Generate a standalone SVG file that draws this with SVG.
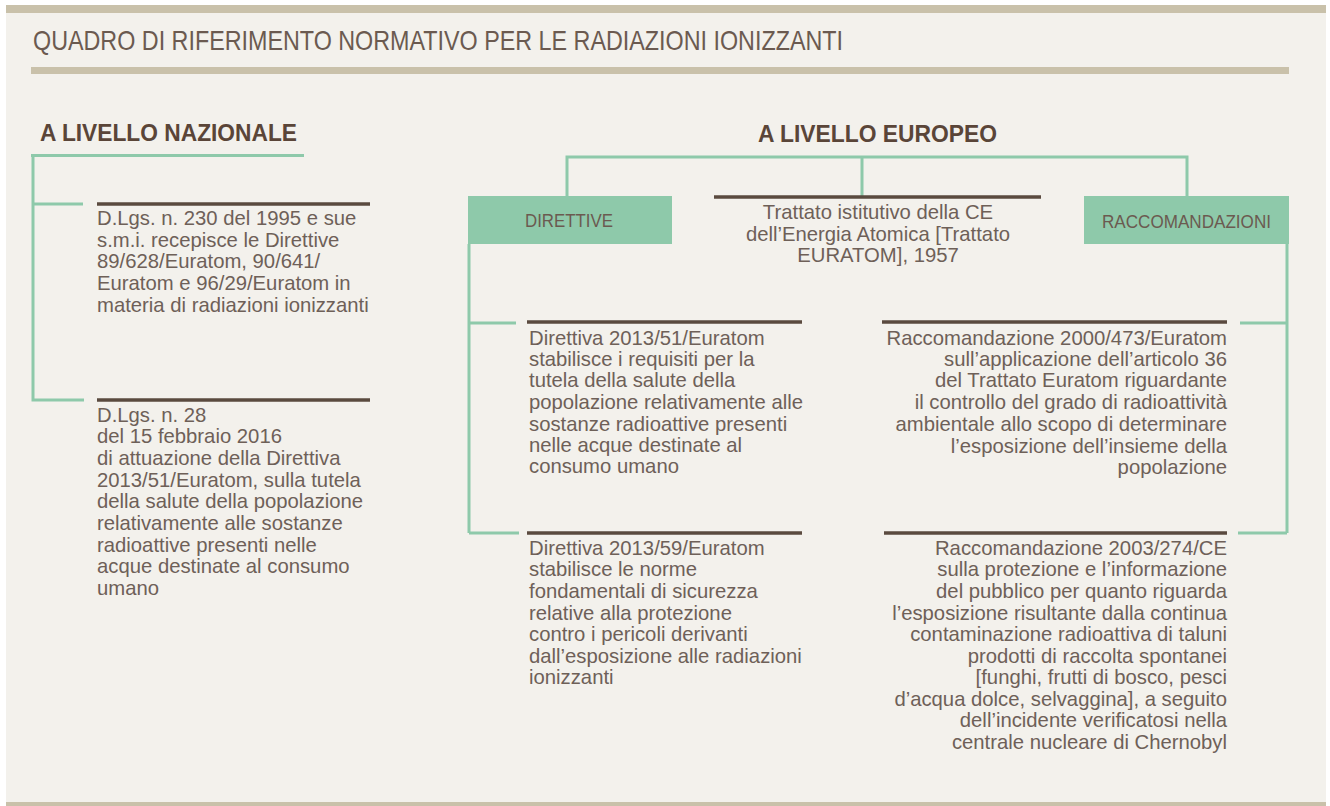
<svg xmlns="http://www.w3.org/2000/svg" width="1330" height="806" viewBox="0 0 1330 806">
<style>
.t{font-family:"Liberation Sans",Arial,sans-serif;font-size:20.3px;fill:#6e6058}
.r{text-anchor:end}
.c{text-anchor:middle}
.h{font-family:"Liberation Sans",Arial,sans-serif;font-weight:bold;font-size:23px;fill:#5a4538}
.g{stroke:#8ec9aa;stroke-width:3;fill:none}
.b{stroke:#5a4a3f;stroke-width:3.5}
.box{fill:#8ec9aa}
.bl{font-family:"Liberation Sans",Arial,sans-serif;font-size:19px;fill:#6b5a50}
</style>
<rect x="0" y="0" width="1330" height="806" fill="#ffffff"/>
<rect x="6" y="5" width="1320" height="801" fill="#f3f1ec"/>
<rect x="6" y="5" width="1320" height="8" fill="#c9c1aa"/>
<rect x="6" y="802" width="1320" height="4" fill="#c9c1aa"/>
<rect x="31" y="67" width="1258" height="7" fill="#c9c1aa"/>
<text x="33" y="50" font-family="Liberation Sans,Arial,sans-serif" font-size="28" fill="#6b5a50" textLength="810" lengthAdjust="spacingAndGlyphs">QUADRO DI RIFERIMENTO NORMATIVO PER LE RADIAZIONI IONIZZANTI</text>

<g id="connectors">
<path class="g" d="M31 155.5H304 M33 155.5V401.5 M33 204H83 M33 400H84"/>
<path class="g" d="M567 196V157H1187V196 M862 157V196"/>
<path class="g" d="M469 244V533 M469 323H516 M469 533H519"/>
<path class="g" d="M1287 244V533 M1240 323H1287 M1238 533H1287"/>
</g>

<g id="head-nazionale">
<text class="h" x="40" y="141" textLength="257" lengthAdjust="spacingAndGlyphs">A LIVELLO NAZIONALE</text>
</g>
<g id="head-europeo">
<text class="h" x="758" y="142" textLength="239" lengthAdjust="spacingAndGlyphs">A LIVELLO EUROPEO</text>
</g>

<g id="naz1">
<line class="b" x1="97" y1="204" x2="370" y2="204"/>
<text class="t" x="97" y="225">D.Lgs. n. 230 del 1995 e sue</text>
<text class="t" x="97" y="246.7">s.m.i. recepisce le Direttive</text>
<text class="t" x="97" y="268.3">89/628/Euratom, 90/641/</text>
<text class="t" x="97" y="290">Euratom e 96/29/Euratom in</text>
<text class="t" x="97" y="311.7">materia di radiazioni ionizzanti</text>
</g>

<g id="naz2">
<line class="b" x1="97" y1="400" x2="370" y2="400"/>
<text class="t" x="97" y="421.7">D.Lgs. n. 28</text>
<text class="t" x="97" y="443.3">del 15 febbraio 2016</text>
<text class="t" x="97" y="465">di attuazione della Direttiva</text>
<text class="t" x="97" y="486.7">2013/51/Euratom, sulla tutela</text>
<text class="t" x="97" y="508.3">della salute della popolazione</text>
<text class="t" x="97" y="530">relativamente alle sostanze</text>
<text class="t" x="97" y="551.7">radioattive presenti nelle</text>
<text class="t" x="97" y="573.3">acque destinate al consumo</text>
<text class="t" x="97" y="595">umano</text>
</g>

<g id="direttive">
<rect class="box" x="468" y="196" width="204" height="48"/>
<text class="bl c" x="569" y="227" textLength="88" lengthAdjust="spacingAndGlyphs">DIRETTIVE</text>
</g>

<g id="trattato">
<line class="b" x1="714" y1="197" x2="1041" y2="197"/>
<text class="t c" x="878" y="219">Trattato istitutivo della CE</text>
<text class="t c" x="878" y="240.7">dell’Energia Atomica [Trattato</text>
<text class="t c" x="878" y="262.3">EURATOM], 1957</text>
</g>

<g id="raccomandazioni">
<rect class="box" x="1084" y="196" width="205" height="48"/>
<text class="bl c" x="1186.5" y="228" textLength="169" lengthAdjust="spacingAndGlyphs">RACCOMANDAZIONI</text>
</g>

<g id="dir51">
<line class="b" x1="527" y1="322" x2="802" y2="322"/>
<text class="t" x="529" y="345">Direttiva 2013/51/Euratom</text>
<text class="t" x="529" y="365.7">stabilisce i requisiti per la</text>
<text class="t" x="529" y="387.3">tutela della salute della</text>
<text class="t" x="529" y="409">popolazione relativamente alle</text>
<text class="t" x="529" y="430.7">sostanze radioattive presenti</text>
<text class="t" x="529" y="452">nelle acque destinate al</text>
<text class="t" x="529" y="473.3">consumo umano</text>
</g>

<g id="dir59">
<line class="b" x1="527" y1="533" x2="802" y2="533"/>
<text class="t" x="529" y="555">Direttiva 2013/59/Euratom</text>
<text class="t" x="529" y="576">stabilisce le norme</text>
<text class="t" x="529" y="597.7">fondamentali di sicurezza</text>
<text class="t" x="529" y="619.5">relative alla protezione</text>
<text class="t" x="529" y="641">contro i pericoli derivanti</text>
<text class="t" x="529" y="662.7">dall’esposizione alle radiazioni</text>
<text class="t" x="529" y="684">ionizzanti</text>
</g>

<g id="rac2000">
<line class="b" x1="882" y1="322" x2="1227" y2="322"/>
<text class="t r" x="1227" y="345">Raccomandazione 2000/473/Euratom</text>
<text class="t r" x="1227" y="365.7">sull’applicazione dell’articolo 36</text>
<text class="t r" x="1227" y="387.3">del Trattato Euratom riguardante</text>
<text class="t r" x="1227" y="409">il controllo del grado di radioattività</text>
<text class="t r" x="1227" y="430.7">ambientale allo scopo di determinare</text>
<text class="t r" x="1227" y="452.5">l’esposizione dell’insieme della</text>
<text class="t r" x="1227" y="474">popolazione</text>
</g>

<g id="rac2003">
<line class="b" x1="884" y1="533" x2="1227" y2="533"/>
<text class="t r" x="1227" y="555">Raccomandazione 2003/274/CE</text>
<text class="t r" x="1227" y="576">sulla protezione e l’informazione</text>
<text class="t r" x="1227" y="597.7">del pubblico per quanto riguarda</text>
<text class="t r" x="1227" y="619.5">l’esposizione risultante dalla continua</text>
<text class="t r" x="1227" y="641">contaminazione radioattiva di taluni</text>
<text class="t r" x="1227" y="662.7">prodotti di raccolta spontanei</text>
<text class="t r" x="1227" y="684">[funghi, frutti di bosco, pesci</text>
<text class="t r" x="1227" y="705.7">d’acqua dolce, selvaggina], a seguito</text>
<text class="t r" x="1227" y="727.3">dell’incidente verificatosi nella</text>
<text class="t r" x="1227" y="749">centrale nucleare di Chernobyl</text>
</g>
</svg>
